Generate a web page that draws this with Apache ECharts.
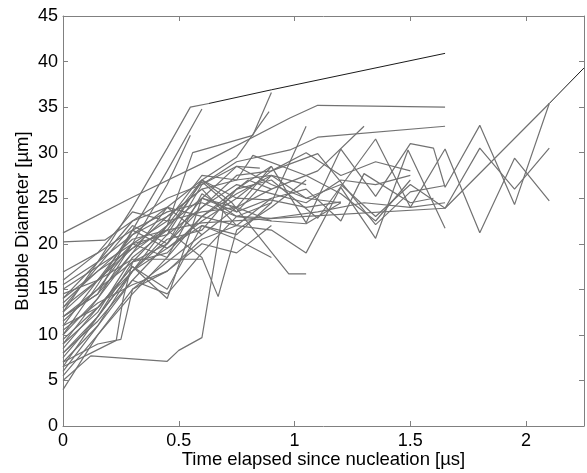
<!DOCTYPE html>
<html>
<head>
<meta charset="utf-8">
<script src="https://cdn.jsdelivr.net/npm/echarts@6/dist/echarts.min.js"></script>
<style>html,body{margin:0;padding:0;background:#fff;overflow:hidden}#c{width:587px;height:473px}</style>
</head>
<body>
<div id="c"></div>
<script>
// x: time elapsed since nucleation [µs], y: bubble diameter [µm]
const xTicks = [0, 0.5, 1, 1.5, 2];
const yTicks = [0, 5, 10, 15, 20, 25, 30, 35, 40, 45];

const b01 = [[0,21.2],[0.3,25.1],[0.6,28.8],[0.98,33.8],[1.1,35.2],[1.65,35.0]];
const b02 = [[0,20.2],[0.18,20.4],[0.3,22.5],[0.45,25],[0.6,26.5],[0.75,29],[0.98,30.3],[1.1,31.7],[1.65,32.9]];
const b03 = [[0,12.5],[0.15,18],[0.3,24],[0.45,30.5],[0.55,35.0],[0.63,35.4]];
const b04 = [[0,10],[0.15,15.5],[0.3,21.5],[0.45,28],[0.6,34.8]];
const b05 = [[0,9],[0.15,14],[0.3,20],[0.45,26.5],[0.55,31.9]];
const b06 = [[0,8],[0.15,12],[0.3,17],[0.45,22],[0.56,30],[0.67,30.8],[0.82,31.9],[0.9,36.6]];
const b07 = [[0,6],[0.15,11],[0.3,17],[0.45,21],[0.6,27],[0.75,29.5],[0.89,34.5]];
const b08 = [[0,14],[0.15,17],[0.3,19.5],[0.45,21.5],[0.6,22.3],[1.05,23.0],[1.65,23.9],[2.1,35.4]];
const b09 = [[0,5],[0.12,7.7],[0.45,7.1],[0.5,8.3],[0.6,9.7],[0.7,25],[0.8,27],[0.9,26]];
const b10 = [[0,7.5],[0.15,12],[0.3,18],[0.45,22],[0.6,27],[0.73,24.5],[0.975,16.7],[1.05,16.7]];
const b11 = [[0,13.5],[0.15,17],[0.3,20.5],[0.45,21.5],[0.6,18.5],[0.67,14.2],[0.75,21.5],[0.9,24],[1.05,27]];
const b12 = [[0,11],[0.15,13],[0.3,17.5],[0.45,14.0],[0.6,25],[0.75,23.5],[0.9,27.5]];
const b13 = [[0,6.5],[0.12,8],[0.23,9.4],[0.26,14],[0.3,18],[0.45,19],[0.6,23],[0.75,22]];
const b14 = [[0,7],[0.15,11],[0.3,16],[0.45,20],[0.6,24],[0.75,27.5],[0.9,28],[1.1,29.9],[1.35,22.1],[1.5,25.7],[1.65,26.4]];
const b15 = [[0,11.5],[0.15,15],[0.3,18],[0.45,20],[0.6,25],[0.75,24],[0.9,28.5],[1.05,22.3],[1.2,30.4],[1.35,25.2],[1.5,31.0],[1.6,30.5],[1.65,26.2],[1.8,33.0],[1.95,24.3],[2.1,35.4]];
const b16 = [[0,5.5],[0.15,10],[0.3,14.5],[0.45,18.5],[0.6,23],[0.75,26],[0.9,27],[1.1,22.8],[1.35,31.5],[1.5,24.0],[1.65,30.4],[1.8,21.2],[1.95,29.4],[2.1,24.7]];
const b17 = [[0,12],[0.15,14.5],[0.3,19],[0.45,22],[0.6,25],[0.75,28.5],[0.9,26.5],[1.05,25],[1.2,26.5],[1.35,23],[1.5,26.5],[1.65,23.9],[1.8,30.5],[1.95,26],[2.1,30.5]];
const b18 = [[0,9.5],[0.15,13],[0.3,17],[0.45,19.5],[0.6,22],[0.75,21],[0.9,24.5],[1.05,32.9]];
const b19 = [[0,13],[0.15,16],[0.3,20],[0.45,22.5],[0.6,23.5],[0.75,24],[0.9,26],[1.1,28],[1.3,32.9]];
const b20 = [[0,15],[0.15,17.5],[0.3,20],[0.45,21],[0.6,24],[0.75,26.5],[0.9,25.5],[1.05,24.5],[1.2,27],[1.35,26.5],[1.5,27.5]];
const b21 = [[0,15.5],[0.15,18],[0.3,21],[0.45,23],[0.6,26],[0.75,27],[0.82,29.7],[1.05,27.5],[1.2,25.5],[1.35,22.5],[1.5,27.0]];
const b22 = [[0,4],[0.15,10],[0.3,15],[0.45,18],[0.6,21]];
const b23 = [[0,16.9],[0.15,19],[0.3,21.5],[0.45,23.5],[0.6,24.5],[0.75,23],[0.9,22.5]];
const b24 = [[0,13],[0.15,17.5],[0.3,22],[0.45,20],[0.6,26.5],[0.75,28.5],[0.85,28.3]];
const b25 = [[0,12],[0.15,15],[0.3,20],[0.45,18.5],[0.6,25.5],[0.75,23],[0.9,24.5]];
const b26 = [[0,8.5],[0.15,13],[0.3,17.5],[0.45,15],[0.6,22],[0.75,20.5],[0.9,18.5]];
const b27 = [[0,14.5],[0.15,16],[0.3,18.3],[0.45,18.3],[0.6,18.3]];
const b28 = [[0,10.5],[0.15,13.5],[0.3,15.5],[0.45,17],[0.6,20],[0.75,19],[0.9,22]];
const b29 = [[0,12.5],[0.15,16],[0.3,19.5],[0.45,23],[0.6,26],[0.75,22],[0.9,21.5],[1.05,19.0],[1.2,26.2],[1.35,20.6],[1.49,30.3],[1.65,21.7]];
const b30 = [[0,7],[0.15,9],[0.25,9.5],[0.3,15],[0.45,17],[0.6,20.5],[0.75,22],[0.9,25],[1.05,26],[1.2,22.5],[1.3,27.7],[1.5,24.5],[1.6,25]];
const b31 = [[0,11],[0.15,16],[0.3,21],[0.45,24],[0.6,27],[0.75,25],[0.9,28],[1.05,30.0],[1.2,27.5],[1.35,29],[1.5,28]];
const b32 = [[0,9],[0.15,12.5],[0.3,18.5],[0.45,21.5],[0.6,26.8],[0.75,23.5],[0.9,25]];
const b33 = [[0,14],[0.15,18],[0.3,22.5],[0.45,24],[0.6,23],[0.75,25.5],[0.9,27.5],[1.05,26.5]];
const b34 = [[0,6.5],[0.15,12],[0.3,17],[0.45,20.5],[0.6,21.5],[0.75,26],[0.9,28.5]];
const b35 = [[0,16],[0.15,19],[0.3,23.5],[0.45,22.5],[0.6,27.5],[0.75,27],[0.9,27.5],[1.05,25],[1.2,24.5]];
const b36 = [[0,10],[0.15,14],[0.3,19],[0.45,24],[0.6,21],[0.75,24],[0.9,22.5],[1.05,22.2],[1.2,24.5]];
const b37 = [[0,12],[0.15,14.5],[0.3,21.5],[0.45,19.5],[0.6,22.5],[0.75,25],[0.9,24.8],[1.05,24],[1.2,24.6]];
const b38 = [[0,8],[0.15,11.5],[0.3,16],[0.45,14.5],[0.6,19],[0.75,23],[0.9,22.8],[1.1,23.5],[1.3,24.5],[1.5,24],[1.65,24.5]];

const blackA = [[0.63,35.4],[0.9,36.9],[1.65,40.9]];
const blackB = [[2.1,35.4],[2.25,39.3]];

const grayBubbles = [b01,b02,b03,b04,b05,b06,b07,b08,b09,b10,b11,b12,b13,b14,b15,b16,b17,b18,b19,b20,
  b21,b22,b23,b24,b25,b26,b27,b28,b29,b30,b31,b32,b33,b34,b35,b36,b37,b38];
const blackBubbles = [blackA, blackB];

const series = [];
grayBubbles.forEach(d => series.push({type:'line', data:d, showSymbol:false, silent:true,
  lineStyle:{color:'#727272', width:1.2}}));
blackBubbles.forEach(d => series.push({type:'line', data:d, showSymbol:false, silent:true,
  lineStyle:{color:'#000', width:0.9}}));

const font = 'Liberation Sans, Arial, Helvetica, sans-serif';
const axisCol = '#808080';
const axisLine = {show:true, onZero:false, lineStyle:{color:axisCol, width:1}};
const axisTick = {show:true, inside:true, length:5, lineStyle:{color:axisCol}};
const chart = echarts.init(document.getElementById('c'), null, {renderer:'canvas'});
chart.setOption({
  animation:false,
  backgroundColor:'#fff',
  grid:{left:63, top:16, right:3, bottom:47, containLabel:false, outerBoundsMode:'none'},
  xAxis:[{
    type:'value', min:0, max:2.25, interval:0.5, position:'bottom',
    name:'Time elapsed since nucleation [\u00b5s]', nameLocation:'middle', nameGap:24, nameMoveOverlap:false,
    nameTextStyle:{color:'#000', fontSize:18.5, fontFamily:font},
    axisLine:axisLine, axisTick:axisTick,
    axisLabel:{color:'#000', fontSize:18, fontFamily:font, margin:6, showMaxLabel:false,
      formatter:v => xTicks.includes(Math.round(v*100)/100) ? String(v) : ''},
    splitLine:{show:false}
  },{
    type:'value', min:0, max:2.25, interval:0.5, position:'top',
    axisLine:axisLine, axisTick:axisTick,
    axisLabel:{show:false}, splitLine:{show:false}
  }],
  yAxis:[{
    type:'value', min:0, max:45, interval:5, position:'left',
    name:'Bubble Diameter [\u00b5m]', nameLocation:'middle', nameGap:31, nameMoveOverlap:false,
    nameTextStyle:{color:'#000', fontSize:18.5, fontFamily:font},
    axisLine:axisLine, axisTick:axisTick,
    axisLabel:{color:'#000', fontSize:18, fontFamily:font, margin:5,
      formatter:v => yTicks.includes(v) ? String(v) : ''},
    splitLine:{show:false}
  },{
    type:'value', min:0, max:45, interval:5, position:'right',
    axisLine:axisLine, axisTick:axisTick,
    axisLabel:{show:false}, splitLine:{show:false}
  }],
  series: series
});
</script>
</body>
</html>
